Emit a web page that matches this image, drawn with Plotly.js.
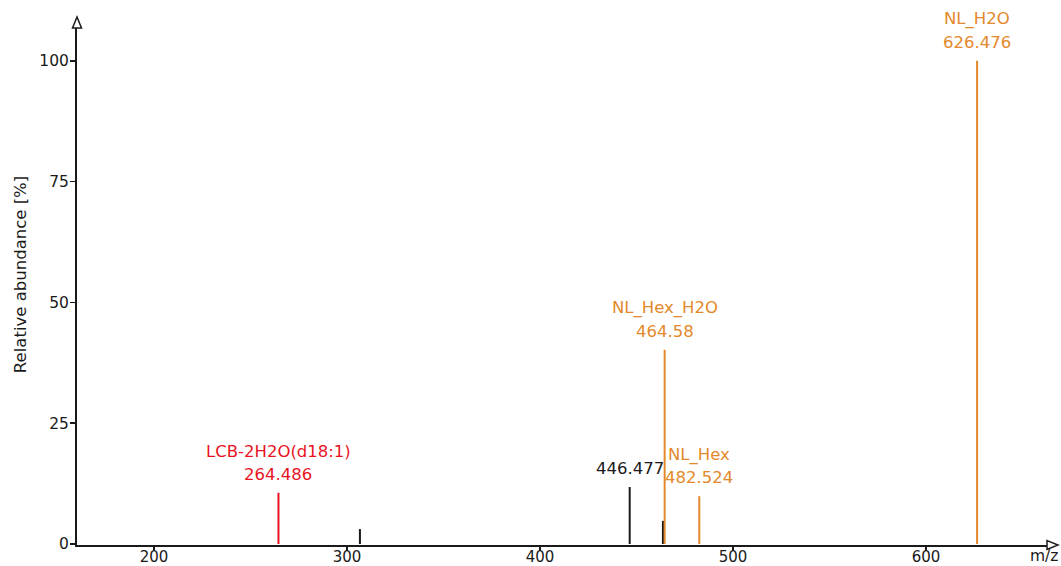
<!DOCTYPE html>
<html>
<head>
<meta charset="utf-8">
<script src="https://cdn.plot.ly/plotly-3.0.1.min.js"></script>
<style>
  html, body { margin: 0; padding: 0; background: #fff; }
  #chart { width: 1061px; height: 566px; }
</style>
</head>
<body>
<div id="chart"></div>
<script>
// MS/MS spectrum: fragment peaks (m/z, relative abundance %)
const unlabeledMz = [306.7, 446.477, 463.7];
const unlabeledInt = [3.1, 11.8, 4.8];

const lcbMz = [264.486];
const lcbInt = [10.6];
const lcbNames = ["LCB-2H2O(d18:1)"];

const nlMz = [464.58, 482.524, 626.476];
const nlInt = [40.2, 9.9, 100];
const nlNames = ["NL_Hex_H2O", "NL_Hex", "NL_H2O"];

// peaks that only carry their m/z as a label
const plainLabelMz = [446.477];
const plainLabelInt = [11.8];

const xTicks = [200, 300, 400, 500, 600];
const yTicks = [0, 25, 50, 75, 100];

const ORANGE = "#e3892b";
const RED = "#e8131f";
const INK = "#1a1a1a";
const FONT = "DejaVu Sans, Verdana, sans-serif";

// stick spectrum: one vertical segment per peak, separated by gaps
function sticks(mz, inten) {
  const x = [], y = [];
  mz.forEach((m, i) => { x.push(m, m, null); y.push(0, inten[i], null); });
  return { x, y };
}

function stickTrace(mz, inten, color) {
  const s = sticks(mz, inten);
  return {
    type: "scatter", mode: "lines", x: s.x, y: s.y,
    line: { color: color, width: 2 }, hoverinfo: "skip", showlegend: false,
    connectgaps: false
  };
}

const traces = [
  stickTrace(unlabeledMz, unlabeledInt, INK),
  stickTrace(lcbMz, lcbInt, RED),
  stickTrace(nlMz, nlInt, ORANGE)
];

// one text line placed a fixed pixel distance above a peak top
function labelLine(x, y, text, color, shift) {
  return {
    x: x, y: y, xref: "x", yref: "y", text: text, showarrow: false,
    xanchor: "center", yanchor: "middle", yshift: shift,
    font: { family: FONT, size: 16.5, color: color }
  };
}

const annotations = [];
lcbMz.forEach((m, i) => {
  annotations.push(labelLine(m, lcbInt[i], m.toFixed(3), RED, 18.5));
  annotations.push(labelLine(m, lcbInt[i], lcbNames[i], RED, 41.5));
});
nlMz.forEach((m, i) => {
  annotations.push(labelLine(m, nlInt[i], String(m), ORANGE, 18.5));
  annotations.push(labelLine(m, nlInt[i], nlNames[i], ORANGE, 41.5));
});
plainLabelMz.forEach((m, i) => annotations.push(labelLine(m, plainLabelInt[i], String(m), INK, 18.5)));

// axis captions
annotations.push({
  xref: "paper", yref: "paper", x: 1, y: 0, text: "m/z", showarrow: false,
  xanchor: "center", yanchor: "top", xshift: -3, yshift: 0,
  font: { family: FONT, size: 15.5, color: INK }
});
annotations.push({
  xref: "paper", yref: "paper", x: 0, y: 0.522, text: "Relative abundance [%]",
  showarrow: false, textangle: -90, xanchor: "center", yanchor: "middle", xshift: -57,
  font: { family: FONT, size: 16.5, color: INK }
});

// open arrow heads at the ends of both axes
const shapes = [
  {
    type: "path", xref: "paper", yref: "paper", xsizemode: "pixel", ysizemode: "pixel",
    xanchor: 0, yanchor: 1, path: "M -4.5,0 L 4.5,0 L 0,11 Z",
    fillcolor: "#ffffff", line: { color: INK, width: 1.5 }
  },
  {
    type: "path", xref: "paper", yref: "paper", xsizemode: "pixel", ysizemode: "pixel",
    xanchor: 1, yanchor: 0, path: "M 0,-4.5 L 0,4.5 L 11,0 Z",
    fillcolor: "#ffffff", line: { color: INK, width: 1.5 }
  }
];

const layout = {
  width: 1061, height: 566,
  margin: { l: 77, r: 14, t: 28, b: 21, pad: 0 },
  paper_bgcolor: "#ffffff", plot_bgcolor: "#ffffff",
  showlegend: false,
  font: { family: FONT, size: 15.5, color: INK },
  xaxis: {
    range: [160.1, 662.7], tickvals: xTicks, ticktext: xTicks.map(String),
    ticks: "outside", ticklen: 4, tickwidth: 1.5, tickcolor: INK,
    ticklabelstandoff: -7,
    showline: true, linecolor: INK, linewidth: 2,
    showgrid: false, zeroline: false,
    tickfont: { family: FONT, size: 15, color: INK }
  },
  yaxis: {
    range: [-0.2, 106.8], tickvals: yTicks, ticktext: yTicks.map(String),
    ticks: "outside", ticklen: 5, tickwidth: 1.5, tickcolor: INK,
    ticklabelstandoff: -2,
    showline: true, linecolor: INK, linewidth: 2,
    showgrid: false, zeroline: false,
    tickfont: { family: FONT, size: 15.5, color: INK }
  },
  shapes: shapes,
  annotations: annotations
};

Plotly.newPlot("chart", traces, layout, { staticPlot: true, displayModeBar: false });
</script>
</body>
</html>
